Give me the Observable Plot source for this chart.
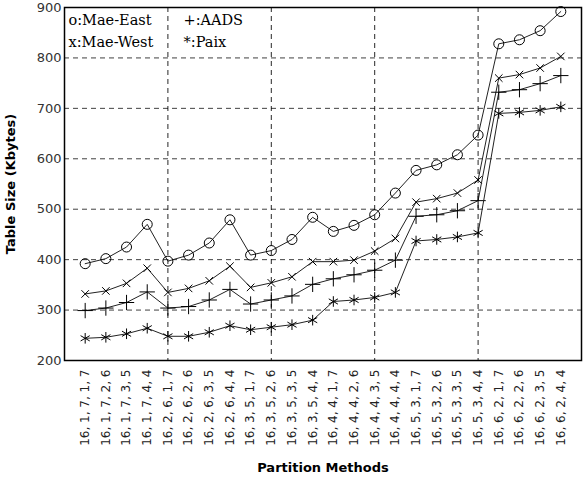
<!DOCTYPE html>
<html>
<head>
<meta charset="utf-8">
<script src="https://cdn.jsdelivr.net/npm/d3@7"></script>
<script src="https://cdn.jsdelivr.net/npm/@observablehq/plot@0.6"></script>
<style>
  html, body { margin: 0; padding: 0; background: #fff; }
</style>
</head>
<body>
<div id="chart"></div>
<script>
const labels = [
  "16, 1, 7, 1, 7", "16, 1, 7, 2, 6", "16, 1, 7, 3, 5", "16, 1, 7, 4, 4",
  "16, 2, 6, 1, 7", "16, 2, 6, 2, 6", "16, 2, 6, 3, 5", "16, 2, 6, 4, 4",
  "16, 3, 5, 1, 7", "16, 3, 5, 2, 6", "16, 3, 5, 3, 5", "16, 3, 5, 4, 4",
  "16, 4, 4, 1, 7", "16, 4, 4, 2, 6", "16, 4, 4, 3, 5", "16, 4, 4, 4, 4",
  "16, 5, 3, 1, 7", "16, 5, 3, 2, 6", "16, 5, 3, 3, 5", "16, 5, 3, 4, 4",
  "16, 6, 2, 1, 7", "16, 6, 2, 2, 6", "16, 6, 2, 3, 5", "16, 6, 2, 4, 4"
];
const maeEast = [392,402,425,470,397,409,433,479,409,418,440,484,456,468,489,532,577,588,608,647,828,836,854,892];
const maeWest = [332,338,353,383,335,343,358,387,345,354,366,396,396,399,417,442,514,521,532,558,760,767,780,803];
const aads    = [299,304,315,336,304,307,320,341,312,320,328,351,362,370,379,399,486,489,497,517,732,737,749,765];
const paix    = [244,246,253,264,248,248,256,269,261,266,271,280,317,320,325,335,437,440,445,453,690,692,696,703];
const yTicks = [200,300,400,500,600,700,800,900];
const yGrid = [300,400,500,600,700,800];
const xGrid = [5,10,15,20];
const legendLeft = ["o:Mae-East", "x:Mae-West"];
const legendRight = ["+:AADS", "*:Paix"];

const seriesDefs = [
  {name: "Mae-East", values: maeEast, symbol: "circle", r: 5},
  {name: "Mae-West", values: maeWest, symbol: "times", r: 3.5},
  {name: "AADS", values: aads, symbol: "plus", r: 5},
  {name: "Paix", values: paix, symbol: "asterisk", r: 5}
];

const marks = [
  Plot.gridY(yGrid, {stroke: "#000", strokeOpacity: 0.75, strokeDasharray: "5,4"}),
  Plot.gridX(xGrid, {stroke: "#000", strokeOpacity: 0.85, strokeDasharray: "5,4"})
];
for (const s of seriesDefs) {
  const data = s.values.map((v, i) => ({x: i + 1, y: v}));
  marks.push(Plot.line(data, {x: "x", y: "y", stroke: "#222", strokeWidth: 1}));
  marks.push(Plot.dot(data, {x: "x", y: "y", symbol: () => s.symbol, r: s.r, stroke: "#000", strokeWidth: 1, fill: "none"}));
}
marks.push(
  Plot.axisY({ticks: yTicks, tickSize: 0, tickPadding: 3, label: null, fontSize: 13, fill: "#333"}),
  Plot.axisX({ticks: d3.range(1, 25), tickFormat: d => labels[d - 1], tickRotate: -90, tickSize: 0, tickPadding: 9, label: null, fontSize: 12, fill: "#222"}),
  Plot.frame({stroke: "#000", strokeWidth: 1.5}),
  Plot.text(["Table Size (Kbytes)"], {frameAnchor: "left", rotate: -90, dx: -54, fontWeight: "bold", fontSize: 13, textAnchor: "middle", lineAnchor: "middle"}),
  Plot.text(["Partition Methods"], {frameAnchor: "bottom", dy: 107, fontWeight: "bold", fontSize: 13, textAnchor: "middle", lineAnchor: "middle"}),
  Plot.text([legendLeft[0]], {frameAnchor: "top-left", dx: 4, dy: 7, fontFamily: "DejaVu Serif", fontSize: 14.5, lineAnchor: "top"}),
  Plot.text([legendLeft[1]], {frameAnchor: "top-left", dx: 4, dy: 29, fontFamily: "DejaVu Serif", fontSize: 14.5, lineAnchor: "top"}),
  Plot.text([legendRight[0]], {frameAnchor: "top-left", dx: 119, dy: 7, fontFamily: "DejaVu Serif", fontSize: 14.5, lineAnchor: "top"}),
  Plot.text([legendRight[1]], {frameAnchor: "top-left", dx: 119, dy: 29, fontFamily: "DejaVu Serif", fontSize: 14.5, lineAnchor: "top"})
);

const chart = Plot.plot({
  width: 583,
  height: 478,
  marginTop: 7,
  marginBottom: 118,
  marginLeft: 64,
  marginRight: 2,
  x: {domain: [0, 25]},
  y: {domain: [200, 900]},
  style: {fontFamily: "DejaVu Sans", background: "#fff", color: "#000"},
  marks
});
document.getElementById("chart").appendChild(chart);
</script>
</body>
</html>
